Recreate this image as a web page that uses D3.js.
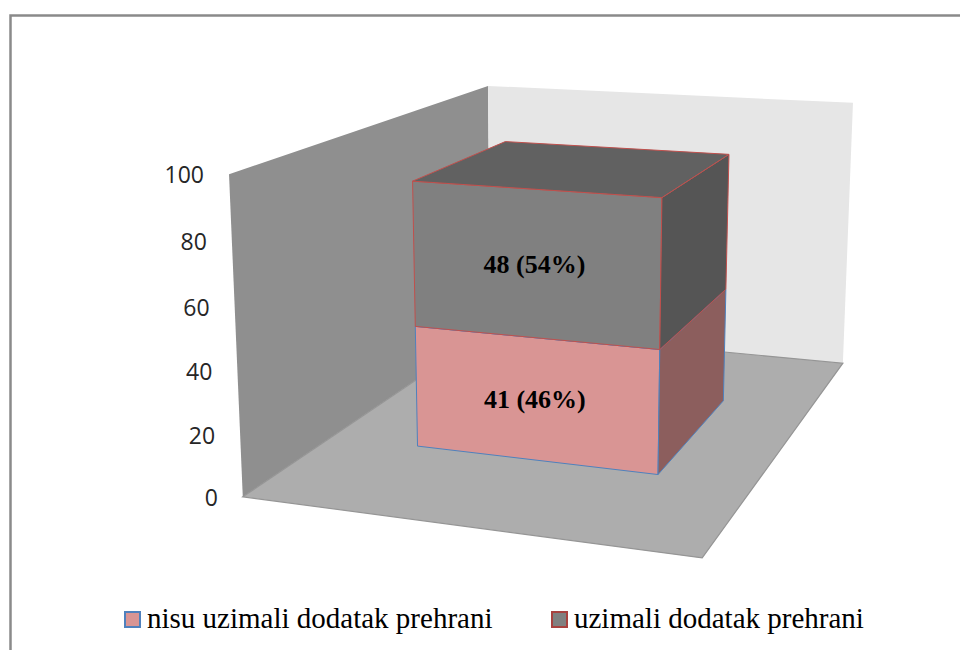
<!DOCTYPE html>
<html>
<head>
<meta charset="utf-8">
<script src="https://cdn.jsdelivr.net/npm/d3@7"></script>
<style>
	body { margin: 0; background: #fff; }
	svg { display: block; }
	.serif { font-family: "Liberation Serif", "Times New Roman", "DejaVu Serif", serif; }
	.sans { font-family: "Open Sans", "Noto Sans", "Liberation Sans", sans-serif; }
</style>
</head>
<body>
<svg id="chart"></svg>
<script>
// chart data
var categories = [""]
var seriesNames = ["nisu uzimali dodatak prehrani", "uzimali dodatak prehrani"]
var notTaking = [41]
var taking = [48]
var percents = [[46], [54]]
var yTicks = [0, 20, 40, 60, 80, 100]

var width = 960
var height = 650

// screen position of the plot box corners, [x, value, depth] -> [px, py]
var frame = [
	[[0, 0, 0], [243, 497]],
	[[0, 1, 0], [229, 174]],
	[[0, 1, 1], [488, 86]],
	[[0, 0, 1], [490, 330]],
	[[1, 1, 1], [853, 103]],
	[[1, 0, 1], [843, 363]],
	[[1, 0, 0], [702, 558]]
]

function fitProjection(pairs) {
	var n = 11
	var M = d3.range(n).map(() => d3.range(n + 1).map(() => 0))
	var addRow = (row, rhs) => {
		for (var i = 0; i < n; i++) {
			for (var j = 0; j < n; j++) M[i][j] += row[i] * row[j]
			M[i][n] += row[i] * rhs
		}
	}
	pairs.forEach(([[X, Y, Z], [u, v]]) => {
		addRow([X, Y, Z, 1, 0, 0, 0, 0, -u * X, -u * Y, -u * Z], u)
		addRow([0, 0, 0, 0, X, Y, Z, 1, -v * X, -v * Y, -v * Z], v)
	})
	// gaussian elimination
	for (var c = 0; c < n; c++) {
		var p = c
		for (var r = c + 1; r < n; r++) if (Math.abs(M[r][c]) > Math.abs(M[p][c])) p = r
		var tmp = M[c]; M[c] = M[p]; M[p] = tmp
		for (var r = 0; r < n; r++) {
			if (r === c) continue
			var f = M[r][c] / M[c][c]
			for (var j = c; j <= n; j++) M[r][j] -= f * M[c][j]
		}
	}
	var m = M.map((row, i) => row[n] / row[i])
	return (X, Y, Z) => {
		var w = m[8] * X + m[9] * Y + m[10] * Z + 1
		return [(m[0] * X + m[1] * Y + m[2] * Z + m[3]) / w,
			(m[4] * X + m[5] * Y + m[6] * Z + m[7]) / w]
	}
}

var proj = fitProjection(frame)

var x = d3.scaleBand()
	.domain(categories)
	.range([0, 1])
	.paddingOuter(0.375)

var y = d3.scaleLinear()
	.domain([0, 100])
	.range([0, 1])

var depth = [0.3, 0.7]

var rows = categories.map((c, i) => ({cat: c, a: notTaking[i], b: taking[i]}))
var stacked = d3.stack().keys(["a", "b"])(rows)

var faceColors = [
	{front: "#d99594", right: "#8c5e5d", top: "#b57978", stroke: "#4f81bd"},
	{front: "#808080", right: "#555555", top: "#616161", stroke: "#c0504d"}
]

var svg = d3.select("#chart")
	.attr("width", width)
	.attr("height", height)
	.attr("viewBox", [0, 0, width, height])

// outer frame
svg.append("path")
	.attr("fill", "none")
	.attr("stroke", "#8a8a8a")
	.attr("stroke-width", 2.5)
	.attr("d", "M10.5,652 L10.5,15.5 L962,15.5")

var line = d3.line()
var quad = pts => line(pts.map(p => proj(p[0], p[1], p[2]))) + "Z"

// walls and floor
svg.append("path")
	.attr("fill", "#8f8f8f")
	.attr("d", quad([[0, 0, 0], [0, 1, 0], [0, 1, 1], [0, 0, 1]]))
svg.append("path")
	.attr("fill", "#e6e6e6")
	.attr("d", quad([[0, 0, 1], [0, 1, 1], [1, 1, 1], [1, 0, 1]]))
svg.append("path")
	.attr("fill", "#adadad")
	.attr("stroke", "#959595")
	.attr("stroke-width", 1.2)
	.attr("d", quad([[0, 0, 0], [0, 0, 1], [1, 0, 1], [1, 0, 0]]))

// y axis labels
svg.append("g")
	.selectAll("text")
	.data(yTicks)
	.join("text")
	.attr("class", "sans")
	.attr("x", d => proj(0, y(d), 0)[0] - 25)
	.attr("y", d => proj(0, y(d), 0)[1] + 1)
	.attr("dy", "0.35em")
	.attr("text-anchor", "end")
	.attr("font-size", 23)
	.attr("fill", "#262626")
	.text(d => d)

// stacked boxes
var x0 = x(categories[0]), x1 = x0 + x.bandwidth()
var z0 = depth[0], z1 = depth[1]

stacked.forEach((layer, s) => {
	var col = faceColors[s]
	layer.forEach((d, i) => {
		var b0 = y(d[0]), b1 = y(d[1])
		var g = svg.append("g")
			.attr("stroke", col.stroke)
			.attr("stroke-width", 1)
			.attr("stroke-linejoin", "round")
		g.append("path").attr("fill", col.front)
			.attr("d", quad([[x0, b0, z0], [x1, b0, z0], [x1, b1, z0], [x0, b1, z0]]))
		g.append("path").attr("fill", col.right)
			.attr("d", quad([[x1, b0, z0], [x1, b0, z1], [x1, b1, z1], [x1, b1, z0]]))
		g.append("path").attr("fill", col.top)
			.attr("d", quad([[x0, b1, z0], [x1, b1, z0], [x1, b1, z1], [x0, b1, z1]]))
	})
})

// data labels
stacked.forEach((layer, s) => {
	layer.forEach((d, i) => {
		var c = proj((x0 + x1) / 2, y((d[0] + d[1]) / 2), z0)
		svg.append("text")
			.attr("class", "serif")
			.attr("x", c[0])
			.attr("y", c[1])
			.attr("dy", "0.35em")
			.attr("text-anchor", "middle")
			.attr("font-weight", "bold")
			.attr("font-size", 26)
			.attr("fill", "#000")
			.text(`${d[1] - d[0]} (${percents[s][i]}%)`)
	})
})

// legend
var legendX = [125, 552]
var legendColors = [
	{fill: "#d99594", stroke: "#4f81bd"},
	{fill: "#808080", stroke: "#a8423f"}
]
var legend = svg.append("g")
	.selectAll("g")
	.data(seriesNames)
	.join("g")
	.attr("transform", (d, i) => `translate(${legendX[i]},628)`)

legend.append("rect")
	.attr("x", 0)
	.attr("y", -16)
	.attr("width", 15)
	.attr("height", 15)
	.attr("fill", (d, i) => legendColors[i].fill)
	.attr("stroke", (d, i) => legendColors[i].stroke)
	.attr("stroke-width", 2)

legend.append("text")
	.attr("class", "serif")
	.attr("x", 22)
	.attr("y", 0)
	.attr("font-size", 29)
	.attr("fill", "#000")
	.text(d => d)
</script>
</body>
</html>
